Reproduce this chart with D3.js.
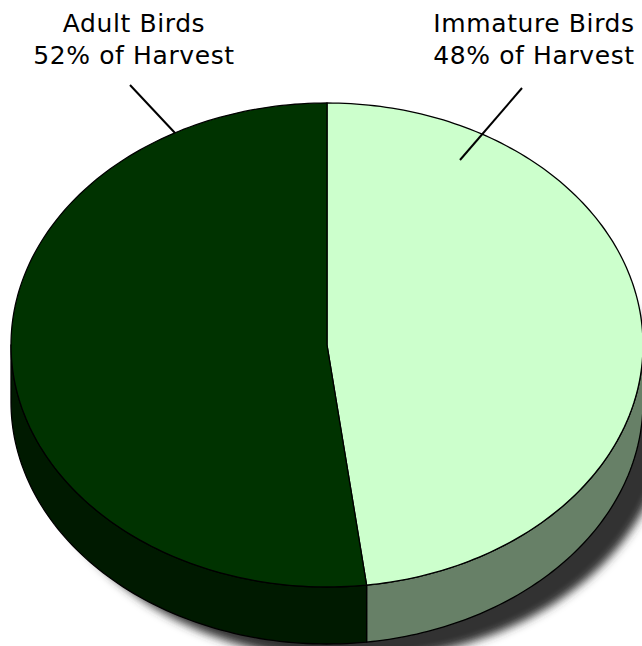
<!DOCTYPE html>
<html><head><meta charset="utf-8">
<script src="https://cdn.jsdelivr.net/npm/d3@7"></script>
<style>html,body{margin:0;padding:0;background:#fff;}svg{display:block;}</style>
</head><body>
<svg id="c" width="642" height="646"></svg>
<script>
const categories = ["Immature Birds", "Adult Birds"];
const values = [48, 52];
const labels = ["48% of Harvest", "52% of Harvest"];
const topColors = ["#ccffcc", "#003300"];
const sideColors = ["#678067", "#001a00"];

const W = 642, H = 646;
const cx = 327, cy = 345, rx = 316, ry = 242, depth = 57;
const svg = d3.select("#c");

const defs = svg.append("defs");
const f = defs.append("filter").attr("id","sh").attr("filterUnits","userSpaceOnUse")
  .attr("x", 0).attr("y", 0).attr("width", W).attr("height", H);
f.append("feGaussianBlur").attr("stdDeviation", 5);

const pie = d3.pie().sort(null).value(d => d)(values);

const pt = (a, dy=0) => [cx + rx*Math.sin(a), cy - ry*Math.cos(a) + dy];

// shadow
const g = svg.append("g");
g.append("path")
  .attr("d", () => {
    const pts = d3.range(0, 361, 2).map(d => { const a = d*Math.PI/180; return [cx + 24 + rx*Math.sin(a), cy + depth + 16 - ry*Math.cos(a)]; });
    return d3.line()(pts) + "Z";
  })
  .attr("fill", "#333").attr("filter","url(#sh)");

// sides
function sidePath(a0, a1) {
  const s = Math.max(a0, Math.PI/2), e = Math.min(a1, 3*Math.PI/2);
  if (e <= s) return null;
  const n = 80;
  const top = d3.range(n+1).map(i => pt(s + (e-s)*i/n));
  const bot = d3.range(n+1).map(i => pt(e - (e-s)*i/n, depth));
  return d3.line()(top.concat(bot)) + "Z";
}
pie.forEach((p, i) => {
  const d = sidePath(p.startAngle, p.endAngle);
  if (d) g.append("path").attr("d", d).attr("fill", sideColors[i]).attr("stroke","#000").attr("stroke-width",1.3).attr("stroke-linejoin","round");
});

// tops
pie.forEach((p, i) => {
  const n = 160;
  const pts = [[cx, cy]].concat(d3.range(n+1).map(k => pt(p.startAngle + (p.endAngle-p.startAngle)*k/n)));
  g.append("path").attr("d", d3.line()(pts) + "Z").attr("fill", topColors[i]).attr("stroke","#000").attr("stroke-width",1.3).attr("stroke-linejoin","round");
});

// labels
const labelPos = [{x:534, y:32, l1:[522,88], l2:[460,160]}, {x:134, y:32, l1:[130,85], l2:[175,133]}];
pie.forEach((p, i) => {
  const L = labelPos[i];
  const t = svg.append("text").attr("x", L.x).attr("y", L.y).attr("text-anchor","middle")
    .attr("font-family","DejaVu Sans, Verdana, sans-serif").attr("font-size", 25).attr("letter-spacing", 0.6).attr("fill","#000");
  t.append("tspan").attr("x", L.x).attr("dy", 0).text(categories[i]);
  t.append("tspan").attr("x", L.x).attr("dy", 32).text(labels[i]);
  svg.append("line").attr("x1", L.l1[0]).attr("y1", L.l1[1]).attr("x2", L.l2[0]).attr("y2", L.l2[1]).attr("stroke","#000").attr("stroke-width",2);
});
</script>
</body></html>
